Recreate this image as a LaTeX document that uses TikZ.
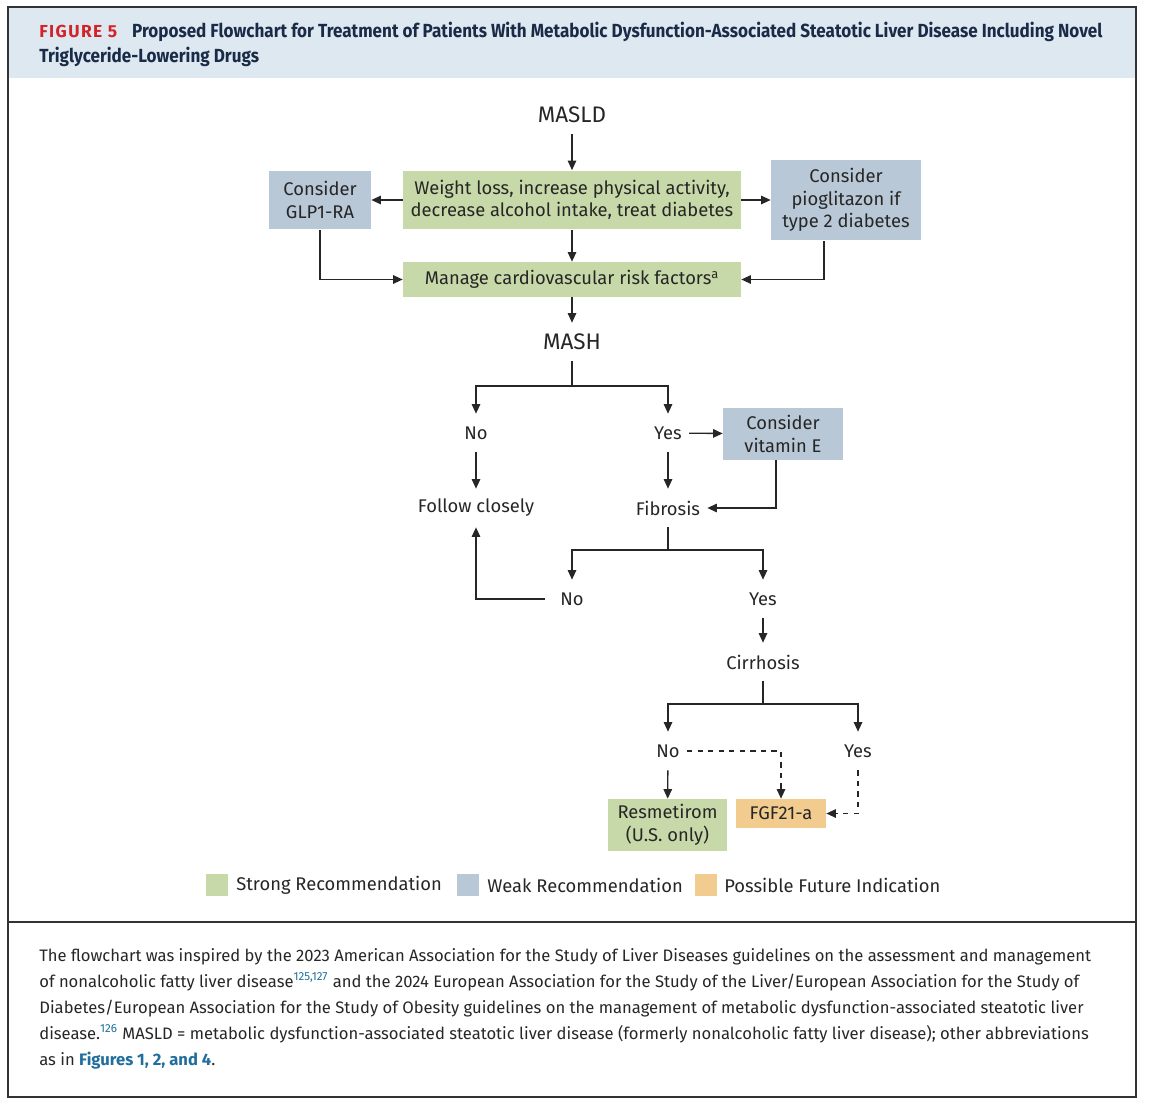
\documentclass[tikz,border=0pt]{standalone}
\usepackage{fontspec}
\setmainfont{Fira Sans}
\newfontfamily\headfont[FakeStretch=0.9]{Fira Sans}
\newfontfamily\figfont[LetterSpace=8]{Fira Sans}
\usetikzlibrary{arrows.meta}

\definecolor{strong}{HTML}{C8D9A9}
\definecolor{weak}{HTML}{B9C8D7}
\definecolor{future}{HTML}{F2CC8F}
\definecolor{band}{HTML}{DEE8F1}
\definecolor{figred}{HTML}{D2232A}
\definecolor{navy}{HTML}{1A2B47}
\definecolor{linkblue}{HTML}{1F6E9C}
\definecolor{ink}{HTML}{262626}

\tikzset{
  txt/.style={font=\fontsize{10.45}{12.8}\selectfont, text=ink, align=center},
  box/.style={txt, inner sep=0pt},
  strongbox/.style={box, fill=strong},
  weakbox/.style={box, fill=weak},
  futurebox/.style={box, fill=future},
  lbl/.style={txt, inner xsep=0.14cm, inner ysep=0pt, minimum height=0.76cm},
  biglbl/.style={lbl, font=\fontsize{12.8}{15}\selectfont},
  arr/.style={-{Triangle[length=5.4pt,width=4.8pt]}, line width=0.75pt, draw=ink},
  line/.style={line width=0.75pt, draw=ink},
  swatch/.style={fill=#1, minimum width=0.44cm, minimum height=0.44cm, inner sep=0pt},
}

\begin{document}
\begin{tikzpicture}[x=0.02cm, y=-0.02cm]
  \useasboundingbox (0,0) rectangle (1150,1106);
  % cadre et bandeau
  \fill[band] (8,7) rectangle (1136,78);
  \draw[line width=1pt, draw=black!80] (8,7) rectangle (1136,1097);
  \draw[line width=1pt, draw=black!80] (8,922) -- (1136,922);
  \node[anchor=west, inner sep=0pt, text=navy, font=\headfont\fontsize{10.8}{13}\bfseries\selectfont] (titre1) at (39,32)
     {{\figfont\fontsize{9.9}{12}\bfseries\selectfont\color{figred}FIGURE 5}\hspace{0.3cm}Proposed Flowchart for Treatment of Patients With Metabolic Dysfunction-Associated Steatotic Liver Disease Including Novel};
  \node[anchor=west, inner sep=0pt, text=navy, font=\headfont\fontsize{10.8}{13}\bfseries\selectfont] (titre2) at (39,57)
     {Triglyceride-Lowering Drugs};

  % noeuds
  \node[biglbl] (masld) at (572,115) {MASLD};
  \node[strongbox, minimum width=6.76cm, minimum height=1.18cm] (weight) at (572,200)
     {Weight loss, increase physical activity,\\decrease alcohol intake, treat diabetes};
  \node[weakbox, minimum width=2.04cm, minimum height=1.18cm] (glp) at (320,200) {Consider\\GLP1-RA};
  \node[weakbox, minimum width=3.0cm, minimum height=1.62cm] (pio) at (846,200) {Consider\\pioglitazon if\\type 2 diabetes};
  \node[strongbox, minimum width=6.76cm, minimum height=0.70cm] (manage) at (572,279.5)
     {Manage cardiovascular risk factors\textsuperscript{a}};
  \node[biglbl] (mash) at (572,342) {MASH};
  \node[lbl] (no1) at (476,433) {No};
  \node[lbl] (yes1) at (668,433) {Yes};
  \node[weakbox, minimum width=2.4cm, minimum height=1.04cm] (vite) at (783,434) {Consider\\vitamin E};
  \node[lbl] (follow) at (476,508) {Follow closely};
  \node[lbl] (fib) at (668,508) {Fibrosis};
  \node[lbl] (no2) at (572,599) {No};
  \node[lbl] (yes2) at (763,599) {Yes};
  \node[lbl] (cirr) at (763,662) {Cirrhosis};
  \node[lbl] (no3) at (668,751) {No};
  \node[lbl] (yes3) at (858,751) {Yes};
  \node[strongbox, minimum width=2.38cm, minimum height=1.04cm] (resm) at (667.5,825) {Resmetirom\\(U.S. only)};
  \node[futurebox, minimum width=1.8cm, minimum height=0.58cm] (fgf) at (781,813.5) {FGF21-a};

  % embranchements
  \coordinate (mashsplit) at (572,386);
  \coordinate (fibsplit) at (668,550);
  \coordinate (cirrsplit) at (763,704);

  % fleches
  \draw[arr] (masld) -- (weight);
  \draw[arr] (weight) -- (glp);
  \draw[arr] (weight) -- (pio);
  \draw[arr] (weight) -- (manage);
  \draw[arr] (glp.south) |- (manage.west);
  \draw[arr] ([xshift=-0.44cm]pio.south) |- (manage.east);
  \draw[arr] (manage) -- (mash);
  \draw[line] (mash) -- (mashsplit);
  \draw[arr] (mashsplit) -| (no1);
  \draw[arr] (mashsplit) -| (yes1);
  \draw[arr] (yes1) -- (vite);
  \draw[arr] (no1) -- (follow);
  \draw[arr] (yes1) -- (fib);
  \draw[arr] ([xshift=-0.14cm]vite.south) |- (fib.east);
  \draw[line] (fib) -- (fibsplit);
  \draw[arr] (fibsplit) -| (no2);
  \draw[arr] (fibsplit) -| (yes2);
  \draw[arr] ([xshift=-0.16cm]no2.west) -| (follow.south);
  \draw[arr] (yes2) -- (cirr);
  \draw[line] (cirr) -- (cirrsplit);
  \draw[arr] (cirrsplit) -| (no3);
  \draw[arr] (cirrsplit) -| (yes3);
  \draw[arr] (no3) -- (resm);
  \draw[arr, dashed] (no3.east) -| (fgf.north);
  \draw[arr, dashed] (yes3.south) |- (fgf.east);

  % legende
  \node[swatch=strong] (sw1) at (217,885) {};
  \node[txt, anchor=west, inner sep=0pt] (leg1) at (236,885) {Strong Recommendation};
  \node[swatch=weak] (sw2) at (468,885) {};
  \node[txt, anchor=west, inner sep=0pt] (leg2) at (487,885) {Weak Recommendation};
  \node[swatch=future] (sw3) at (706,885) {};
  \node[txt, anchor=west, inner sep=0pt] (leg3) at (724,885) {Possible Future Indication};

  % note
  \node[anchor=north west, inner sep=0pt, align=left, text=ink, font=\fontsize{9.45}{14.8}\selectfont] (note) at (39,948)
     {The flowchart was inspired by the 2023 American Association for the Study of Liver Diseases guidelines on the assessment and management\\
      of nonalcoholic fatty liver disease\textsuperscript{\color{linkblue}125,127} and the 2024 European Association for the Study of the Liver/European Association for the Study of\\
      Diabetes/European Association for the Study of Obesity guidelines on the management of metabolic dysfunction-associated steatotic liver\\
      disease.\textsuperscript{\color{linkblue}126} MASLD = metabolic dysfunction-associated steatotic liver disease (formerly nonalcoholic fatty liver disease); other abbreviations\\
      as in {\color{linkblue}\bfseries Figures 1, 2, and 4}.};
\end{tikzpicture}
\end{document}
